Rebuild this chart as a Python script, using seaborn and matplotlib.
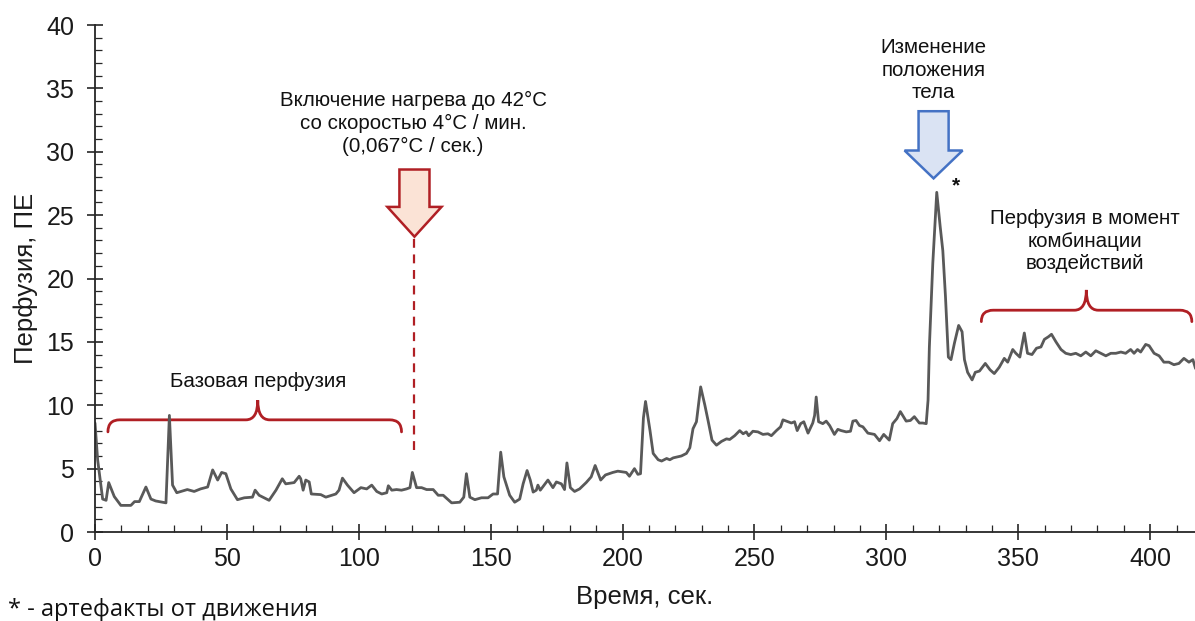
import numpy as np
import pandas as pd
import matplotlib
matplotlib.use("Agg")
import matplotlib.pyplot as plt
from matplotlib.patches import FancyArrow, PathPatch
from matplotlib.path import Path
from matplotlib.ticker import MultipleLocator
import seaborn as sns

# Laser Doppler perfusion trace: time (s) and perfusion (PU)
time_s = [
    0, 1, 2.9, 4.2, 5.2, 7.3, 9.8, 13.6, 15, 16.8, 19.3, 21.2, 23, 26.9, 28.2, 29.4,
    31, 32.6, 35, 37.6, 40, 42.7, 44.6, 46.5, 48, 49.6, 51.5, 54, 56.6, 59.7, 60.7,
    62.2, 66, 68.6, 71, 72.3, 75.5, 77.4, 78, 78.9, 79.9, 81.2, 82, 85.6, 87.5, 91.3,
    92.5, 93.8, 95.7, 98.2, 100.8, 103.0, 104.9, 106.8, 108.7, 110.6, 111.2, 112.5,
    114.3, 116.2, 118.1, 119.4, 120.3, 121.9, 123.8, 125.7, 128.2, 130.1, 132.0,
    135.2, 138.3, 139.8, 140.8, 142.1, 144.0, 146.5, 149.0, 150.9, 152.6, 153.8,
    155.0, 157.2, 159.1, 161.0, 162.3, 163.8, 165.0, 166.1, 167.3, 167.9, 168.8,
    171.7, 173.6, 174.9, 176.8, 178.0, 178.9, 180.2, 181.8, 183.7, 186.2, 188.1,
    189.6, 191.7, 193.5, 196.3, 198.2, 201.4, 202.6, 204.5, 205.8, 206.8, 207.9,
    208.7, 210.4, 211.6, 213.5, 214.8, 216.7, 217.9, 219.2, 222.3, 224.2, 225.5,
    226.7, 228, 229.6, 231.2, 232.4, 233.9, 235.6, 237.5, 239.4, 240.6, 242.5,
    244.4, 245.7, 246.9, 247.8, 249.4, 251.3, 253.2, 255.1, 256.4, 258.3, 259.9,
    260.8, 262.7, 264, 265.2, 266.2, 267.5, 268.7, 270.3, 272.1, 272.8, 273.4,
    274.3, 275.9, 277.2, 278.5, 280.3, 281.6, 282.9, 284.8, 286.4, 287.3, 288.5,
    289.8, 291.1, 293, 295.5, 297.4, 299, 301.1, 302.4, 304, 305.3, 307.5, 309.1,
    310.6, 312.5, 313.8, 315.1, 315.8, 316.3, 317.6, 319.1, 320.4, 321.4, 322.4,
    323.5, 324.5, 325.8, 327.4, 328.7, 329.6, 330.8, 332.5, 333.7, 335.3, 337.5,
    339.3, 340.9, 342.8, 344.7, 346, 347.9, 349.1, 350.6, 352.3, 353.5, 355.2,
    356.9, 358.6, 359.9, 361.4, 362.6, 364.3, 366.2, 368, 369.9, 371.8, 373.7,
    375.6, 377.5, 379.4, 381.3, 383.2, 385.1, 387, 388.9, 390.7, 392.6, 393.9,
    395.2, 396.4, 398.3, 399.6, 401.5, 403.4, 405.2, 407.1, 409, 410.9, 412.8,
    414.7, 416.2, 417.2,
]
perfusion = [
    8.6, 5.7, 2.6, 2.5, 3.9, 2.8, 2.1, 2.1, 2.4, 2.4, 3.55, 2.6, 2.45, 2.3, 9.2, 3.7,
    3.1, 3.2, 3.35, 3.2, 3.4, 3.55, 4.9, 4.1, 4.7, 4.6, 3.4, 2.55, 2.7, 2.75, 3.3,
    2.9, 2.5, 3.3, 4.2, 3.8, 3.9, 4.4, 4.2, 3.3, 4.1, 3.95, 3.0, 2.95, 2.75, 3.0,
    3.3, 4.25, 3.7, 3.1, 3.5, 3.4, 3.7, 3.2, 3.0, 3.1, 3.65, 3.3,
    3.35, 3.3, 3.4, 3.5, 4.7, 3.5, 3.5, 3.35, 3.35, 2.9, 2.9,
    2.3, 2.35, 2.75, 4.6, 2.75, 2.55, 2.7, 2.7, 3.0, 3.0, 6.3,
    4.35, 2.9, 2.35, 2.6, 3.8, 4.85, 4.1, 3.15, 3.3, 3.7, 3.3,
    4.1, 3.5, 3.95, 3.8, 3.35, 5.45, 3.5, 3.2, 3.4, 3.9, 4.35,
    5.25, 4.1, 4.5, 4.7, 4.8, 4.7, 4.4, 5.0, 4.55, 4.6, 9.0,
    10.3, 8.0, 6.2, 5.7, 5.6, 5.8, 5.7, 5.85, 6.0, 6.2, 6.65,
    8.15, 8.7, 11.45, 10.0, 8.8, 7.25, 6.85, 7.15, 7.35, 7.3, 7.6,
    8.0, 7.75, 7.9, 7.6, 7.95, 7.9, 7.7, 7.75, 7.6, 8.0, 8.3,
    8.85, 8.7, 8.6, 8.7, 8.0, 8.55, 8.7, 7.8, 8.6, 9.2, 10.65,
    8.7, 8.55, 8.75, 8.4, 7.7, 8.1, 8.0, 7.9, 7.95, 8.75, 8.8,
    8.4, 8.3, 7.8, 7.7, 7.2, 7.7, 7.25, 8.55, 8.95, 9.5, 8.75, 8.8,
    9.1, 8.6, 8.6, 8.55, 10.4, 14.6, 21.2, 26.8, 24.1, 22.2, 18.6,
    13.8, 13.6, 14.9, 16.3, 15.8, 13.6, 12.6, 12.0, 12.6, 12.7, 13.3,
    12.8, 12.5, 13.0, 13.7, 13.4, 14.4, 14.1, 13.8, 15.7, 14.1, 14.0,
    14.5, 14.6, 15.2, 15.4, 15.6, 15.0, 14.4, 14.1, 14.0, 14.1, 13.9,
    14.2, 13.9, 14.3, 14.1, 13.9, 14.1, 14.1, 14.2, 14.1, 14.4, 14.1,
    14.4, 14.2, 14.8, 14.7, 14.1, 13.9, 13.4, 13.4, 13.2, 13.3, 13.7,
    13.4, 13.6, 12.9,
]

# Annotation anchors (data units)
heat_on_s = 121.1
posture_s = 317.9
base_brace = (4.9, 116.2, 61.7)      # start, end, tip
combo_brace = (336.0, 415.8, 375.8)

sns.set_style("ticks")
plt.rcParams["font.family"] = ["Liberation Sans", "DejaVu Sans"]

fig = plt.figure(figsize=(11.95, 6.21), dpi=100)
ax = fig.add_axes([0.0795, 0.1433, 0.9205, 0.8164])

df = pd.DataFrame({"t": time_s, "p": perfusion})
sns.lineplot(data=df, x="t", y="p", ax=ax, color="#595959", linewidth=2.0)

ax.set_xlim(0, 417)
ax.set_ylim(0, 40)
ax.xaxis.set_major_locator(MultipleLocator(50))
ax.xaxis.set_minor_locator(MultipleLocator(10))
ax.yaxis.set_major_locator(MultipleLocator(5))
ax.yaxis.set_minor_locator(MultipleLocator(1))
for s in ["top", "right"]:
    ax.spines[s].set_visible(False)
for s in ["left", "bottom"]:
    ax.spines[s].set_color("#262626")
    ax.spines[s].set_linewidth(1.3)
ax.tick_params(which="major", direction="inout", length=12, width=1.2,
               color="#262626", labelsize=18, labelcolor="#1a1a1a")
ax.tick_params(axis="y", which="major", pad=9)
ax.tick_params(axis="x", which="major", pad=5)
ax.tick_params(which="minor", direction="in", length=5, width=0.9, color="#262626")
ax.set_xlabel("Время, сек.", fontsize=18.5, color="#1a1a1a", labelpad=10)
ax.set_ylabel("Перфузия, ПЕ", fontsize=18.5, color="#1a1a1a", labelpad=6)


def brace(x0, x1, xc, ybar, yend, ytip, rx):
    verts = [(x0, yend), (x0, ybar), (x0 + rx, ybar),
             (xc - rx, ybar), (xc, ybar), (xc, ytip),
             (xc, ybar), (xc + rx, ybar),
             (x1 - rx, ybar), (x1, ybar), (x1, yend)]
    codes = [Path.MOVETO, Path.CURVE3, Path.CURVE3,
             Path.LINETO, Path.CURVE3, Path.CURVE3,
             Path.CURVE3, Path.CURVE3,
             Path.LINETO, Path.CURVE3, Path.CURVE3]
    ax.add_patch(PathPatch(Path(verts, codes), fill=False,
                           edgecolor="#b01f24", linewidth=2.0,
                           capstyle="round", clip_on=False))


red = "#b01f24"
brace(*base_brace, ybar=8.85, yend=7.9, ytip=10.4, rx=4.5)
brace(*combo_brace, ybar=17.5, yend=16.6, ytip=19.1, rx=4.5)

note_kw = dict(ha="center", va="center", fontsize=14.8, color="#111111",
               linespacing=1.25)
ax.text(base_brace[2], 11.85, "Базовая перфузия", **note_kw)
ax.text(combo_brace[2] - 0.5, 22.95, "Перфузия в момент\nкомбинации\nвоздействий",
        **note_kw)

# heating switch-on marker
ax.plot([heat_on_s, heat_on_s], [6.5, 23.3], color=red, linewidth=1.6,
        linestyle=(0, (4, 3)))
ax.add_patch(FancyArrow(heat_on_s, 28.6, 0, -5.3, width=11.4, head_width=20.5,
                        head_length=2.35, length_includes_head=True,
                        facecolor="#fbe3d6", edgecolor=red, linewidth=1.8))
ax.text(heat_on_s - 0.5, 32.25,
        "Включение нагрева до 42°C\nсо скоростью 4°C / мин.\n(0,067°C / сек.)",
        **note_kw)

# body position change marker
ax.add_patch(FancyArrow(posture_s, 33.2, 0, -5.3, width=11.4, head_width=22.0,
                        head_length=2.2, length_includes_head=True,
                        facecolor="#dae3f3", edgecolor="#4472c4", linewidth=1.8,
                        clip_on=False))
ax.text(posture_s, 36.45, "Изменение\nположения\nтела", **note_kw)
ax.text(326.5, 27.3, "*", ha="center", va="center", fontsize=15,
        fontweight="bold", color="#111111")

fig.text(0.007, 0.018, "* - артефакты от движения", ha="left", va="center",
         fontsize=17, color="#111111", family=["Open Sans", "DejaVu Sans"])

fig.savefig("out.png", dpi=100)
